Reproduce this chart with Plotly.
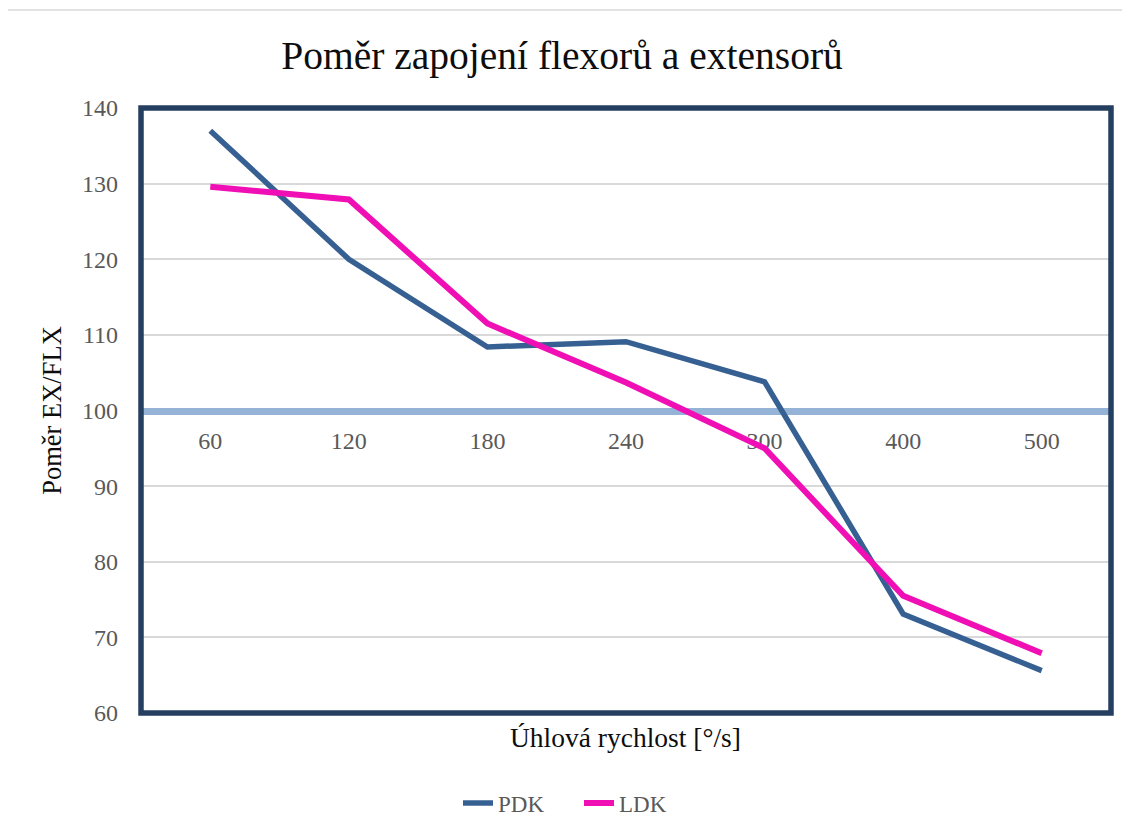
import plotly.graph_objects as go

categories = ["60", "120", "180", "240", "300", "400", "500"]
pdk = [137.0, 120.0, 108.4, 109.1, 103.8, 73.1, 65.6]
ldk = [129.6, 127.9, 111.5, 103.7, 95.0, 75.5, 67.9]

title_text = "Poměr zapojení flexorů a extensorů"
x_title = "Úhlová rychlost [°/s]"
y_title = "Poměr EX/FLX"

OFF = 8  # page body margin
W, H = 1130 - OFF, 836 - OFF
# plot area in page coordinates: x 141..1111, y 108..713
L, R, T, B = 141 - OFF, 1130 - 1111, 108 - OFF, 836 - 713
pw, ph = W - L - R, H - T - B

def px(x):
    return (x - OFF - L) / pw

def py(y):
    return (H - B - (y - OFF)) / ph

FONT = "Liberation Serif"

fig = go.Figure()
fig.add_trace(go.Scatter(x=categories, y=pdk, mode="lines", name="PDK",
                         line=dict(color="#366092", width=5.5)))
fig.add_trace(go.Scatter(x=categories, y=ldk, mode="lines", name="LDK",
                         line=dict(color="#F00FB4", width=6)))

fig.update_layout(
    width=W, height=H,
    margin=dict(l=L, r=R, t=T, b=B),
    paper_bgcolor="white", plot_bgcolor="white",
    font=dict(family=FONT, color="#595959"),
    title=dict(text=title_text, xref="container", yref="container",
               x=(562 - OFF) / W, xanchor="center", y=1 - (55 - OFF) / H, yanchor="middle",
               font=dict(family=FONT, size=39.5, color="#0D0D0D")),
    showlegend=True,
    legend=dict(orientation="h", x=px(458), xanchor="left", y=py(803), yanchor="middle",
                font=dict(family=FONT, size=23, color="#595959"), bgcolor="rgba(0,0,0,0)",
                entrywidth=76, entrywidthmode="pixels"),
    xaxis=dict(type="category", categoryorder="array", categoryarray=categories,
               range=[-0.5, 6.5], anchor="free", position=0.5,
               showline=True, linecolor="#95B3D7", linewidth=7, layer="below traces",
               showgrid=False, zeroline=False, ticks="",
               tickfont=dict(family=FONT, size=24, color="#595959"),
               ticklabelstandoff=6),
    yaxis=dict(range=[60, 140], dtick=10, tick0=60, showgrid=True, gridcolor="#D9D9D9",
               gridwidth=1.5, zeroline=False, showline=False, ticks="",
               tickfont=dict(family=FONT, size=24, color="#595959"),
               ticklabelstandoff=22,
               title=dict(text=y_title, font=dict(family=FONT, size=26.5, color="#0D0D0D"),
                          standoff=12)),
    annotations=[dict(text=x_title, xref="paper", yref="paper", x=px(625), y=py(737),
                      xanchor="center", yanchor="middle", showarrow=False,
                      font=dict(family=FONT, size=27.5, color="#0D0D0D"))],
    shapes=[
        dict(type="rect", xref="paper", yref="paper", x0=px(7), x1=px(1145), y0=py(860), y1=py(10),
             line=dict(color="#D9D9D9", width=1.5), layer="below"),
        dict(type="rect", xref="paper", yref="paper", x0=0, x1=1, y0=0, y1=1,
             line=dict(color="#243F60", width=5.5), layer="above"),
    ],
)

fig.write_html("out.html")
